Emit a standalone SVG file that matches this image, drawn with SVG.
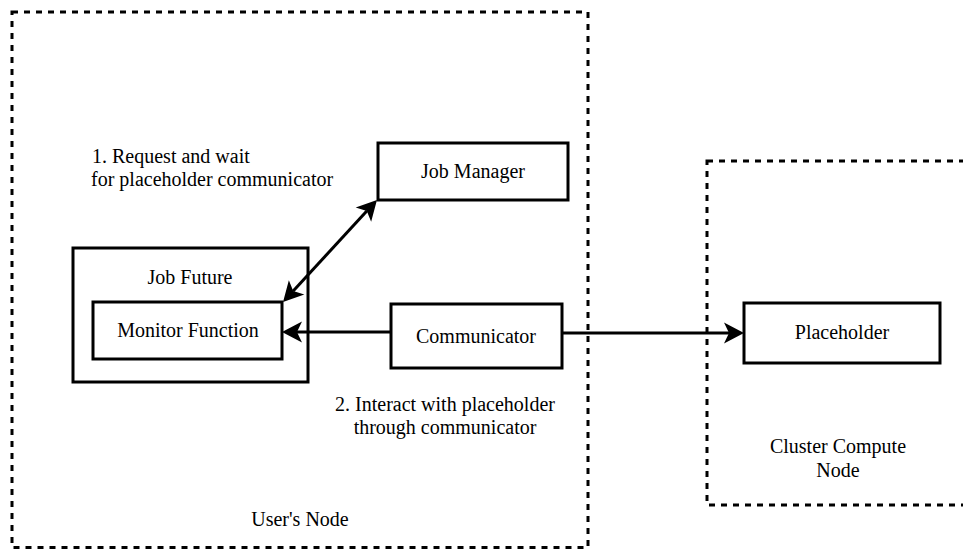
<svg xmlns="http://www.w3.org/2000/svg" width="963" height="550" viewBox="0 0 963 550" font-family="'Liberation Serif', 'DejaVu Serif', serif">
  <style>
    .box { fill: #ffffff; stroke: #000000; stroke-width: 3; }
    .zone { fill: none; stroke: #000000; stroke-width: 3; stroke-dasharray: 6 6; }
    text { font-family: 'Liberation Serif', 'DejaVu Serif', serif; font-size: 20px; fill: #000000; }
    .mid { text-anchor: middle; }
    .edge { fill: none; stroke: #000000; stroke-width: 3; }
  </style>
  <defs>
    <!-- notched arrowhead; the line stops at the notch, the tip sits 15px further -->
    <marker id="arrow" viewBox="-6 -12 22 24" refX="0" refY="0" markerWidth="22" markerHeight="24" markerUnits="userSpaceOnUse" orient="auto-start-reverse">
      <path d="M15,0 L-5,-10.5 L0,0 L-5,10.5 Z" fill="#000000"/>
    </marker>
  </defs>

  <rect width="963" height="550" fill="#ffffff"/>

  <!-- host zones -->
  <g id="users-node">
    <rect class="zone" x="12" y="12" width="576" height="535.5"/>
    <text class="mid" x="300" y="526">User's Node</text>
  </g>
  <g id="cluster-node">
    <rect class="zone" x="707" y="161" width="270" height="344"/>
    <text class="mid" x="838" y="453">Cluster Compute</text>
    <text class="mid" x="838" y="477">Node</text>
  </g>

  <!-- components -->
  <g id="job-manager">
    <rect class="box" x="378" y="143" width="190" height="57"/>
    <text class="mid" x="473" y="178">Job Manager</text>
  </g>
  <g id="job-future">
    <rect class="box" x="73" y="248" width="235" height="134"/>
    <text class="mid" x="190" y="284">Job Future</text>
  </g>
  <g id="monitor-function">
    <rect class="box" x="93" y="302" width="189" height="57"/>
    <text class="mid" x="188" y="337">Monitor Function</text>
  </g>
  <g id="communicator">
    <rect class="box" x="391" y="304" width="171" height="64"/>
    <text class="mid" x="476" y="343">Communicator</text>
  </g>
  <g id="placeholder">
    <rect class="box" x="744" y="303" width="196" height="60"/>
    <text class="mid" x="842" y="339">Placeholder</text>
  </g>

  <!-- connectors -->
  <g id="connectors">
    <path class="edge" d="M293.2,291 L366.8,211" marker-start="url(#arrow)" marker-end="url(#arrow)"/>
    <path class="edge" d="M391,332 L297,332" marker-end="url(#arrow)"/>
    <path class="edge" d="M562,333 L729,333" marker-end="url(#arrow)"/>
  </g>

  <!-- step notes -->
  <g id="notes">
    <text x="92" y="163">1. Request and wait</text>
    <text x="91" y="186">for placeholder communicator</text>
    <text class="mid" x="445" y="411">2. Interact with placeholder</text>
    <text class="mid" x="445" y="434">through communicator</text>
  </g>
</svg>
